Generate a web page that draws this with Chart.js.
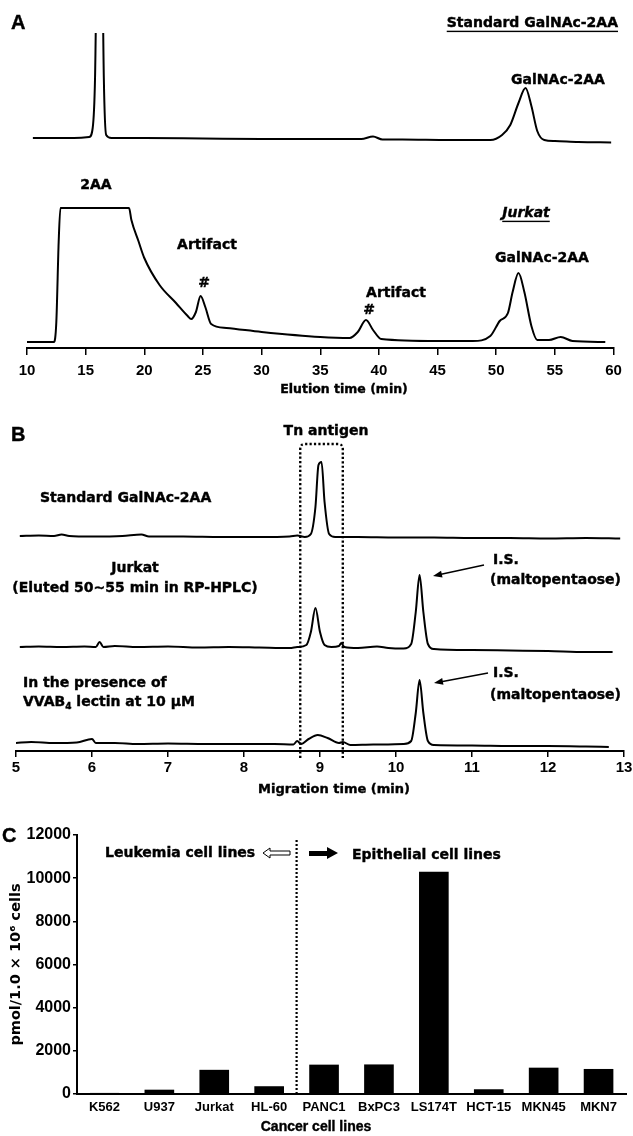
<!DOCTYPE html>
<html>
<head>
<meta charset="utf-8">
<title>Tn antigen analysis</title>
<script src="https://cdn.jsdelivr.net/npm/chart.js@4.4.1/dist/chart.umd.min.js"></script>
<style>
  html, body { margin: 0; padding: 0; background: #fff; }
  body { position: relative; width: 633px; height: 1136px; overflow: hidden; }
  canvas { position: absolute; left: 0; }
</style>
</head>
<body>
<canvas id="chartA" width="633" height="405" style="top:0px"></canvas>
<canvas id="chartB" width="633" height="390" style="top:415px"></canvas>
<canvas id="chartC" width="633" height="321" style="top:815px"></canvas>
<script>
(() => {
    const FONT = '"Liberation Sans", Arial, Helvetica, sans-serif';   // tick labels
    const WIDE = '"DejaVu Sans", Verdana, sans-serif';                 // annotations
    const INK = "#000";

    /* Panel A: RP-HPLC, elution time (min) vs fluorescence (arbitrary units) */
    const aStdTime   = [10.5, 14.0, 15.3, 15.6, 15.8, 16.2, 16.55, 16.75, 17.2, 20, 25, 30, 35, 38.5, 39.5, 40.3, 42, 46, 49.5, 50.5, 51.2, 51.9, 52.5, 53.0, 53.5, 54.1, 55, 57, 59.8];
    const aStdSignal = [0, 0, 1, 10, 60, 400, 60, 3, 0, 0, -0.5, -1, -1, -1, 1.5, -1.5, -1.5, -2, -2, 3, 13, 35, 50, 32, 7, -2, -3, -4, -4.5];
    const aJurTime   = [10.0, 12.3, 12.5, 12.7, 12.85, 18.7, 18.9, 19.5, 20, 21.3, 22.7, 23.7, 24.0, 24.4, 24.8, 25.2, 25.7, 27, 30, 35, 37.5, 38.2, 38.9, 39.5, 40.2, 45, 48, 49.5, 50.3, 51.0, 51.4, 51.9, 52.4, 53.0, 53.5, 54.5, 55.5, 56.5, 59.3];
    const aJurSignal = [0, 0, 20, 100, 134, 134, 122, 101, 84, 57, 39, 26, 23, 30, 46, 35, 18, 14, 10, 5, 4, 10, 22, 12, 3, 1, 1, 6, 21, 29, 50, 69, 50, 16, 2, 2, 5, 1, 0];

    /* Panel B: capillary electrophoresis, migration time (min) vs signal (arbitrary units) */
    const bStdTime   = [5.05, 5.3, 5.5, 5.6, 5.7, 6.0, 6.4, 6.65, 6.75, 7.2, 7.7, 8.2, 8.6, 8.7, 8.8, 8.88, 8.94, 8.98, 9.02, 9.06, 9.12, 9.2, 9.5, 10, 10.5, 11, 11.5, 12, 12.5, 12.95];
    const bStdSignal = [1, 1.5, 1, 2.5, 1, 0.5, 1, 2.5, 0.5, 0.5, 0, 0, 0.5, 1.5, 0, 3, 30, 72, 75, 35, 3, 0, 0, -0.5, -0.5, -1, -1, -1.5, -1, -1.5];
    const bJurTime   = [5.05, 5.3, 5.6, 5.9, 6.05, 6.1, 6.15, 6.3, 6.6, 7.0, 7.4, 7.8, 8.2, 8.6, 8.7, 8.82, 8.88, 8.94, 9.0, 9.06, 9.15, 9.25, 9.28, 9.32, 9.5, 9.75, 9.9, 10.1, 10.2, 10.26, 10.31, 10.36, 10.42, 10.5, 11, 11.5, 12, 12.5, 12.85];
    const bJurSignal = [0, 0.5, 0, 0.5, 0, 5, 0, 1, 0, 0.5, -0.5, 0, -0.5, -1, 0, 2, 15, 39, 15, 2, 0, 1, 4, 0, -1, 0.5, -1, -1.5, 3, 35, 72, 35, 3, -2, -3, -3.5, -4, -5, -5];
    const bLecTime   = [5.0, 5.2, 5.5, 5.8, 6.0, 6.05, 6.3, 6.6, 7.0, 7.5, 8.0, 8.4, 8.65, 8.7, 8.75, 8.85, 8.97, 9.1, 9.25, 9.3, 9.4, 9.7, 10.1, 10.2, 10.26, 10.31, 10.36, 10.42, 10.5, 11, 11.5, 12, 12.5, 12.8];
    const bLecSignal = [0, 1, 0, 0.5, 4, 0, 0, -1, -0.5, -1, -1, -1, -1.5, 2, -1, 4, 8, 5, 0, 1, -2, -1.5, -1, 2, 30, 63, 30, 2, -2, -2.5, -3, -3, -3.5, -4];
    const bTnWindow  = [8.74, 9.30];

    /* Panel C: Tn antigen per cell line */
    const cellLines = ["K562", "U937", "Jurkat", "HL-60", "PANC1", "BxPC3", "LS174T", "HCT-15", "MKN45", "MKN7"];
    const tnAmount  = [50, 200, 1120, 360, 1360, 1370, 10300, 220, 1220, 1160];

    const pts = (xs, ys) => xs.map((x, i) => ({ x, y: ys[i] }));

    function trace(xs, ys, axis) {
        return {
            data: pts(xs, ys),
            yAxisID: axis,
            borderColor: INK,
            borderWidth: 2,
            pointRadius: 0,
            fill: false,
            cubicInterpolationMode: "monotone"
        };
    }

    function font(size, extra, family) {
        return `${extra || ""}bold ${size}px ${family || WIDE}`;
    }

    // annotation text; a thin stroke thickens the glyphs like the scanned original
    function text(ctx, s, x, y, o = {}) {
        const size = o.size || 14;
        ctx.save();
        ctx.font = font(size, o.italic ? "italic " : "", o.family);
        ctx.fillStyle = INK;
        ctx.strokeStyle = INK;
        ctx.lineWidth = 0.4;
        ctx.textAlign = o.align || "center";
        ctx.textBaseline = "middle";
        ctx.fillText(s, x, y);
        ctx.strokeText(s, x, y);
        if (o.underline) {
            const w = ctx.measureText(s).width;
            const x0 = ctx.textAlign === "center" ? x - w / 2 : ctx.textAlign === "right" ? x - w : x;
            ctx.fillRect(x0, y + size * 0.55, w, 1.4);
        }
        ctx.restore();
    }

    function arrow(ctx, x1, y1, x2, y2) {
        const a = Math.atan2(y2 - y1, x2 - x1);
        ctx.save();
        ctx.strokeStyle = INK;
        ctx.fillStyle = INK;
        ctx.lineWidth = 1.5;
        ctx.beginPath();
        ctx.moveTo(x1, y1);
        ctx.lineTo(x2 - 6 * Math.cos(a), y2 - 6 * Math.sin(a));
        ctx.stroke();
        ctx.beginPath();
        ctx.moveTo(x2, y2);
        ctx.lineTo(x2 - 9 * Math.cos(a) + 3.5 * Math.sin(a), y2 - 9 * Math.sin(a) - 3.5 * Math.cos(a));
        ctx.lineTo(x2 - 9 * Math.cos(a) - 3.5 * Math.sin(a), y2 - 9 * Math.sin(a) + 3.5 * Math.cos(a));
        ctx.closePath();
        ctx.fill();
        ctx.restore();
    }

    // x axis for the traces; the axis title is drawn by the panel plugin (it sits off-centre in the original)
    function timeAxis(min, max, step, o) {
        return {
            type: "linear",
            min, max,
            ticks: { stepSize: step, color: INK, font: { family: FONT, size: 15, weight: "bold" }, padding: o.pad, maxRotation: 0, autoSkip: false },
            grid: { drawOnChartArea: false, drawTicks: true, tickLength: o.tick, color: INK, lineWidth: 1.5 },
            border: { display: true, color: INK, width: 2 },
            afterFit(s) { s.height = o.height; s.paddingLeft = 0; s.paddingRight = 0; }
        };
    }

    const base = {
        responsive: false,
        animation: false,
        devicePixelRatio: 1,
        plugins: { legend: { display: false }, tooltip: { enabled: false } }
    };

    /* ---------- Panel A ---------- */
    const labelsA = {
        id: "labelsA",
        afterDraw(chart) {
            const ctx = chart.ctx;
            text(ctx, "A", 11, 23, { size: 20, align: "left", family: FONT });
            text(ctx, "Standard GalNAc-2AA", 618, 23, { align: "right", underline: true });
            text(ctx, "GalNAc-2AA", 558, 80);
            text(ctx, "2AA", 96, 185);
            text(ctx, "Artifact", 207, 245);
            text(ctx, "#", 204, 283);
            text(ctx, "Artifact", 396, 293);
            text(ctx, "#", 369, 310);
            text(ctx, "Jurkat", 526, 213, { italic: true, underline: true });
            text(ctx, "GalNAc-2AA", 542, 258);
            text(ctx, "Elution time (min)", 344, 390, { size: 12.5 });
        }
    };

    new Chart(document.getElementById("chartA"), {
        type: "line",
        data: { datasets: [trace(aStdTime, aStdSignal, "yStd"), trace(aJurTime, aJurSignal, "yJur")] },
        options: {
            ...base,
            layout: { padding: { top: 33, left: 27, right: 19.5, bottom: 0 } },
            scales: {
                x: timeAxis(10, 60, 5, { pad: 7, tick: 7, height: 57 }),
                yStd: { display: false, min: -210, max: 105 },
                yJur: { display: false, min: -6, max: 309 }
            }
        },
        plugins: [labelsA]
    });

    /* ---------- Panel B ---------- */
    const TOP_B = 415;
    const labelsB = {
        id: "labelsB",
        afterDraw(chart) {
            const ctx = chart.ctx;
            const x = chart.scales.x;
            ctx.save();
            ctx.translate(0, -TOP_B);

            // dotted Tn antigen window
            const xl = x.getPixelForValue(bTnWindow[0]);
            const xr = x.getPixelForValue(bTnWindow[1]);
            const top = 444, bottom = 758, r = 5;
            ctx.strokeStyle = INK;
            ctx.lineWidth = 2.4;
            ctx.setLineDash([2.2, 2.2]);
            ctx.beginPath();
            ctx.moveTo(xl, bottom);
            ctx.lineTo(xl, top + r);
            ctx.quadraticCurveTo(xl, top, xl + r, top);
            ctx.lineTo(xr - r, top);
            ctx.quadraticCurveTo(xr, top, xr, top + r);
            ctx.lineTo(xr, bottom);
            ctx.stroke();
            ctx.setLineDash([]);

            text(ctx, "B", 11, 435, { size: 20, align: "left", family: FONT });
            text(ctx, "Tn antigen", 326, 431);
            text(ctx, "Standard GalNAc-2AA", 40, 498, { align: "left" });
            text(ctx, "Jurkat", 135, 568);
            text(ctx, "(Eluted 50~55 min in RP-HPLC)", 135, 588);
            text(ctx, "In the presence of", 23, 683, { align: "left" });

            // VVAB4 with subscript
            let cx = 23;
            text(ctx, "VVAB", cx, 702, { align: "left" });
            ctx.font = font(14);
            cx += ctx.measureText("VVAB").width;
            text(ctx, "4", cx, 707, { align: "left", size: 9 });
            ctx.font = font(9);
            cx += ctx.measureText("4").width;
            text(ctx, " lectin at 10 \u00b5M", cx, 702, { align: "left" });

            text(ctx, "I.S.", 493, 560, { align: "left" });
            text(ctx, "(maltopentaose)", 490, 580, { align: "left" });
            arrow(ctx, 484, 565, 433, 576);
            text(ctx, "I.S.", 493, 673, { align: "left" });
            text(ctx, "(maltopentaose)", 490, 695, { align: "left" });
            arrow(ctx, 488, 673, 434, 683);

            text(ctx, "Migration time (min)", 334, 790, { size: 13 });
            ctx.restore();
        }
    };

    new Chart(document.getElementById("chartB"), {
        type: "line",
        data: {
            datasets: [
                trace(bStdTime, bStdSignal, "yStd"),
                trace(bJurTime, bJurSignal, "yJur"),
                trace(bLecTime, bLecSignal, "yLec")
            ]
        },
        options: {
            ...base,
            layout: { padding: { top: 28, left: 16, right: 9, bottom: 0 } },
            scales: {
                x: timeAxis(5, 13, 1, { pad: 2, tick: 6, height: 54 }),
                yStd: { display: false, min: -214, max: 94 },
                yJur: { display: false, min: -104, max: 204 },
                yLec: { display: false, min: -8, max: 300 }
            }
        },
        plugins: [labelsB]
    });

    /* ---------- Panel C ---------- */
    const TOP_C = 815;
    const labelsC = {
        id: "labelsC",
        afterDraw(chart) {
            const ctx = chart.ctx;
            const x = chart.scales.x;
            ctx.save();
            ctx.translate(0, -TOP_C);

            text(ctx, "C", 2, 836, { size: 20, align: "left", family: FONT });

            // divider between leukemia and epithelial lines
            const xd = x.getPixelForValue(3.5);
            ctx.strokeStyle = INK;
            ctx.lineWidth = 2.2;
            ctx.setLineDash([2, 2]);
            ctx.beginPath();
            ctx.moveTo(xd, 840);
            ctx.lineTo(xd, 1095);
            ctx.stroke();
            ctx.setLineDash([]);

            text(ctx, "Leukemia cell lines", 105, 853, { align: "left" });
            text(ctx, "Epithelial cell lines", 352, 855, { align: "left" });

            // hollow arrow pointing left
            ctx.lineWidth = 1;
            ctx.beginPath();
            ctx.moveTo(263, 853);
            ctx.lineTo(270, 848);
            ctx.lineTo(270, 851);
            ctx.lineTo(290, 851);
            ctx.lineTo(290, 855);
            ctx.lineTo(270, 855);
            ctx.lineTo(270, 858);
            ctx.closePath();
            ctx.stroke();

            // solid arrow pointing right
            ctx.fillStyle = INK;
            ctx.beginPath();
            ctx.moveTo(338, 853);
            ctx.lineTo(327, 847);
            ctx.lineTo(327, 851);
            ctx.lineTo(309, 851);
            ctx.lineTo(309, 856);
            ctx.lineTo(327, 856);
            ctx.lineTo(327, 859);
            ctx.closePath();
            ctx.fill();

            text(ctx, "Cancer cell lines", 316, 1127, { family: FONT });
            ctx.restore();
        }
    };

    new Chart(document.getElementById("chartC"), {
        type: "bar",
        data: {
            labels: cellLines,
            datasets: [{
                data: tnAmount,
                backgroundColor: INK,
                borderWidth: 0,
                categoryPercentage: 1,
                barPercentage: 0.54
            }]
        },
        options: {
            ...base,
            layout: { padding: { top: 20, left: 0, right: 7, bottom: 0 } },
            scales: {
                x: {
                    ticks: { color: INK, font: { family: FONT, size: 13, weight: "bold" }, padding: 6, maxRotation: 0, autoSkip: false },
                    grid: { display: false, drawTicks: false },
                    border: { display: true, color: INK, width: 2 },
                    afterFit(s) { s.height = 42; s.paddingLeft = 0; s.paddingRight = 0; }
                },
                y: {
                    min: 0, max: 12000,
                    ticks: { stepSize: 2000, color: INK, font: { family: FONT, size: 16, weight: "bold" }, padding: 2, callback: (v) => String(v) },
                    grid: { drawOnChartArea: false, drawTicks: true, tickLength: 4, color: INK, lineWidth: 1.5 },
                    border: { display: true, color: INK, width: 2 },
                    title: { display: true, text: "pmol/1.0 \u00d7 10\u2076 cells", color: INK, font: { family: WIDE, size: 14.5, weight: "bold" }, padding: { top: 8, bottom: 0 } },
                    afterFit(s) { s.width = 77; }
                }
            }
        },
        plugins: [labelsC]
    });
})();
</script>
</body>
</html>
